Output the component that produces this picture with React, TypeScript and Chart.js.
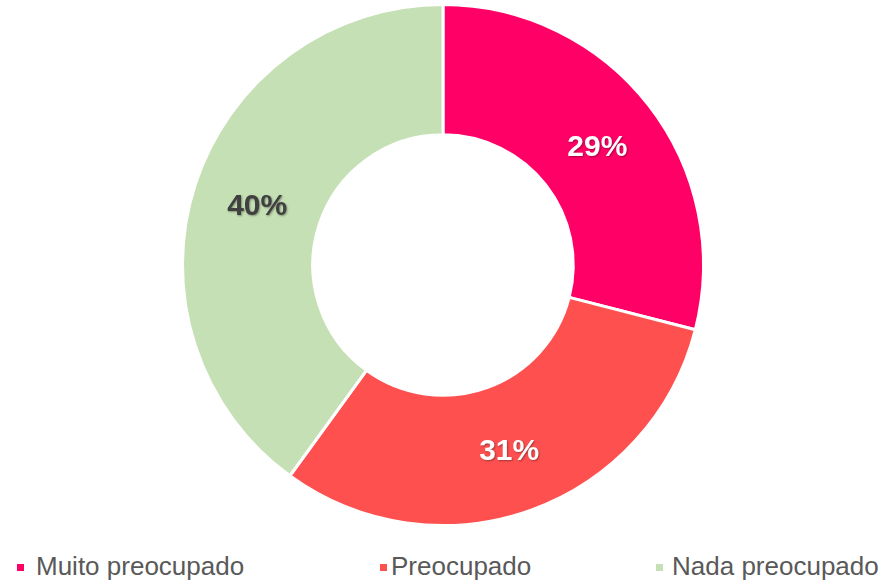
import React, { useEffect, useRef } from "react";
import { Chart, registerables } from "chart.js";

Chart.register(...registerables);

const categories = ["Muito preocupado", "Preocupado", "Nada preocupado"];
const values = [29, 31, 40];
const valueLabels = ["29%", "31%", "40%"];
const colors = ["#FF0066", "#FF5050", "#C5E0B4"];
const labelColors = ["#FFFFFF", "#FFFFFF", "#404040"];

const FONT_SIZE = 30;

const labelPlugin = {
  id: "sliceLabels",
  afterDatasetsDraw(chart: any) {
    const ctx = chart.ctx;
    const meta = chart.getDatasetMeta(0);
    ctx.save();
    ctx.font = `bold ${FONT_SIZE}px 'Liberation Sans', Arial, sans-serif`;
    ctx.textAlign = "center";
    ctx.textBaseline = "alphabetic";
    meta.data.forEach((arc: any, i: number) => {
      const p = arc.tooltipPosition();
      ctx.shadowColor = "rgba(0,0,0,0.35)";
      ctx.shadowBlur = 2;
      ctx.shadowOffsetX = 1;
      ctx.shadowOffsetY = 1;
      ctx.fillStyle = labelColors[i];
      ctx.fillText(valueLabels[i], p.x, p.y + FONT_SIZE * 0.36);
    });
    ctx.restore();
  },
};

const legendPos = [
  { sq: 17, tx: 36 },
  { sq: 380, tx: 391 },
  { sq: 656, tx: 672 },
];

export default function App() {
  const ref = useRef<HTMLCanvasElement>(null);
  useEffect(() => {
    if (!ref.current) return;
    const chart = new Chart(ref.current, {
      type: "doughnut",
      data: {
        labels: categories,
        datasets: [
          {
            data: values,
            backgroundColor: colors,
            borderColor: "#FFFFFF",
            borderWidth: 3,
          },
        ],
      },
      options: {
        responsive: false,
        maintainAspectRatio: false,
        animation: false,
        devicePixelRatio: 1,
        cutout: "50%",
        layout: { padding: { top: 3, bottom: 3, left: 0, right: 3 } },
        plugins: {
          legend: { display: false },
          tooltip: { enabled: false },
        },
      },
      plugins: [labelPlugin],
    });
    return () => chart.destroy();
  }, []);

  return (
    <div
      style={{
        position: "absolute",
        left: 0,
        top: 0,
        width: 889,
        height: 582,
        background: "#FFFFFF",
        overflow: "hidden",
      }}
    >
      <canvas
        ref={ref}
        width={889}
        height={530}
        style={{ position: "absolute", left: 0, top: 0, width: 889, height: 530 }}
      />
      {categories.map((c, i) => (
        <React.Fragment key={c}>
          <div
            style={{
              position: "absolute",
              left: legendPos[i].sq,
              top: 564,
              width: 7,
              height: 7,
              background: colors[i],
            }}
          />
          <div
            style={{
              position: "absolute",
              left: legendPos[i].tx,
              top: 551,
              fontFamily: "'Liberation Sans', Arial, sans-serif",
              fontSize: 26,
              lineHeight: "30px",
              color: "#595959",
              whiteSpace: "nowrap",
            }}
          >
            {c}
          </div>
        </React.Fragment>
      ))}
    </div>
  );
}
